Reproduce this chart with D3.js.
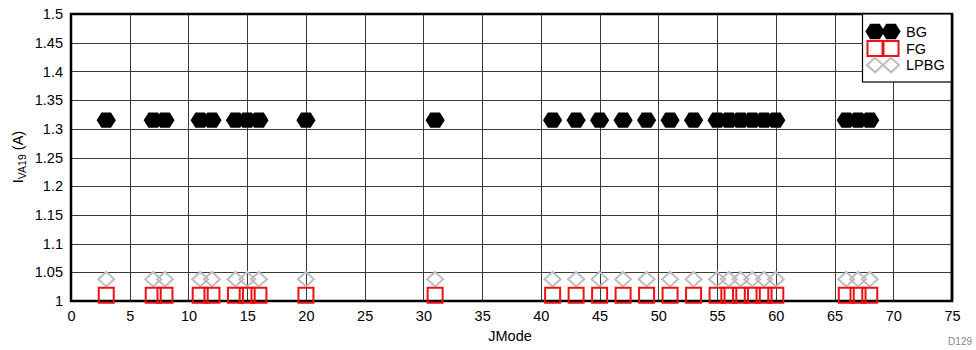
<!DOCTYPE html>
<html>
<head>
<meta charset="utf-8">
<script src="https://cdn.jsdelivr.net/npm/d3@7"></script>
<style>
  html, body { margin: 0; padding: 0; background: #fff; }
  svg { display: block; font-family: "Liberation Sans", Arial, sans-serif; }
</style>
</head>
<body>
<svg id="chart" width="976" height="350"></svg>
<script>
// ---- data ----
const jmode = [3, 7, 8, 11, 12, 14, 15, 16, 20, 31, 41, 43, 45, 47, 49, 51, 53, 55, 56, 57, 58, 59, 60, 66, 67, 68];
const bgValues   = [1.315, 1.315, 1.315, 1.315, 1.315, 1.315, 1.315, 1.315, 1.315, 1.315, 1.315, 1.315, 1.315, 1.315, 1.315, 1.315, 1.315, 1.315, 1.315, 1.315, 1.315, 1.315, 1.315, 1.315, 1.315, 1.315];
const fgValues   = [1.01, 1.01, 1.01, 1.01, 1.01, 1.01, 1.01, 1.01, 1.01, 1.01, 1.01, 1.01, 1.01, 1.01, 1.01, 1.01, 1.01, 1.01, 1.01, 1.01, 1.01, 1.01, 1.01, 1.01, 1.01, 1.01];
const lpbgValues = [1.038, 1.038, 1.038, 1.038, 1.038, 1.038, 1.038, 1.038, 1.038, 1.038, 1.038, 1.038, 1.038, 1.038, 1.038, 1.038, 1.038, 1.038, 1.038, 1.038, 1.038, 1.038, 1.038, 1.038, 1.038, 1.038];
const xTicks = [0, 5, 10, 15, 20, 25, 30, 35, 40, 45, 50, 55, 60, 65, 70, 75];
const yTicks = [1, 1.05, 1.1, 1.15, 1.2, 1.25, 1.3, 1.35, 1.4, 1.45, 1.5];
const seriesNames = ["BG", "FG", "LPBG"];

// ---- layout ----
const svg = d3.select("#chart");
const L = 71, R = 952, T = 14, B = 301;
const x = d3.scaleLinear().domain([0, 75]).range([L, R]);
const y = d3.scaleLinear().domain([1, 1.5]).range([B, T]);

// grid
const grid = svg.append("g");
grid.selectAll("line.v").data(xTicks).join("line")
  .attr("x1", d => Math.round(x(d)) + 0.5).attr("x2", d => Math.round(x(d)) + 0.5)
  .attr("y1", T).attr("y2", B)
  .attr("stroke", "#3a3a3a").attr("stroke-width", 1);
grid.selectAll("line.h").data(yTicks).join("line")
  .attr("y1", d => Math.round(y(d)) + 0.5).attr("y2", d => Math.round(y(d)) + 0.5)
  .attr("x1", L).attr("x2", R)
  .attr("stroke", "#3a3a3a").attr("stroke-width", 1);

// axes (labels only)
const xAxis = d3.axisBottom(x).tickValues(xTicks).tickSize(0).tickPadding(10).tickFormat(d3.format("d"));
const gx = svg.append("g").attr("transform", `translate(0,${B})`).call(xAxis);
gx.select(".domain").remove();
gx.selectAll("text").attr("font-size", 14.5).attr("fill", "#000")
  .attr("font-family", "'Liberation Sans', Arial, sans-serif");

const yAxis = d3.axisLeft(y).tickValues(yTicks).tickSize(0).tickPadding(8).tickFormat(d => String(+d.toFixed(2)));
const gy = svg.append("g").attr("transform", `translate(${L},0)`).call(yAxis);
gy.select(".domain").remove();
gy.selectAll("text").attr("font-size", 14.5).attr("fill", "#000")
  .attr("font-family", "'Liberation Sans', Arial, sans-serif");

// plot border
svg.append("rect").attr("x", L).attr("y", T).attr("width", R - L).attr("height", B - T)
  .attr("fill", "none").attr("stroke", "#000").attr("stroke-width", 2.5);

// markers
const hexR = 9.6;
const hexPts = d3.range(6).map(i => {
  const a = Math.PI / 3 * i;
  return [hexR * Math.cos(a), hexR * Math.sin(a) * 0.92];
});
const hexPath = "M" + hexPts.map(p => p.join(",")).join("L") + "Z";
const sq = 7.5;
const sqPath = `M${-sq},${-sq}L${sq},${-sq}L${sq},${sq}L${-sq},${sq}Z`;
const dw = 8, dh = 7.3;
const diaPath = `M0,${-dh}L${dw},0L0,${dh}L${-dw},0Z`;

const marks = svg.append("g");
marks.selectAll("path.lp").data(jmode).join("path")
  .attr("d", diaPath)
  .attr("transform", (d, i) => `translate(${x(d)},${y(lpbgValues[i])})`)
  .attr("fill", "none").attr("stroke", "#bdbdbd").attr("stroke-width", 2);
marks.selectAll("path.fg").data(jmode).join("path")
  .attr("d", sqPath)
  .attr("transform", (d, i) => `translate(${x(d)},${y(fgValues[i])})`)
  .attr("fill", "none").attr("stroke", "#ee1111").attr("stroke-width", 2);
marks.selectAll("path.bg").data(jmode).join("path")
  .attr("d", hexPath)
  .attr("transform", (d, i) => `translate(${x(d)},${y(bgValues[i])})`)
  .attr("fill", "#000").attr("stroke", "none");

// legend
const lg = svg.append("g");
lg.append("rect").attr("x", 862.5).attr("y", T).attr("width", R - 862.5).attr("height", 68)
  .attr("fill", "#fff").attr("stroke", "#000").attr("stroke-width", 1.2);
const rowsY = [31.5, 48.5, 65];
const symX = [875, 891];
const legendStyles = [
  { d: hexPath, fill: "#000", stroke: "none", sw: 0 },
  { d: sqPath, fill: "none", stroke: "#ee1111", sw: 2 },
  { d: diaPath, fill: "none", stroke: "#bdbdbd", sw: 2 }
];
seriesNames.forEach((name, i) => {
  symX.forEach(sx => {
    lg.append("path").attr("d", legendStyles[i].d)
      .attr("transform", `translate(${sx},${rowsY[i]})`)
      .attr("fill", legendStyles[i].fill).attr("stroke", legendStyles[i].stroke)
      .attr("stroke-width", legendStyles[i].sw);
  });
  lg.append("text").attr("x", 906).attr("y", rowsY[i] + 5)
    .attr("font-size", 14.5).attr("fill", "#000").text(name);
});
// redraw right border over legend
svg.append("line").attr("x1", R).attr("x2", R).attr("y1", T).attr("y2", B)
  .attr("stroke", "#000").attr("stroke-width", 2.5);

// axis titles
svg.append("text").attr("x", 510).attr("y", 341).attr("text-anchor", "middle")
  .attr("font-size", 14.5).attr("fill", "#000").text("JMode");

const yl = svg.append("text").attr("transform", "translate(23,157) rotate(-90)")
  .attr("text-anchor", "middle").attr("font-size", 14.5).attr("fill", "#000");
yl.append("tspan").text("I");
yl.append("tspan").attr("font-size", 10.5).attr("dy", 3).text("VA19");
yl.append("tspan").attr("dy", -3).text(" (A)");

svg.append("text").attr("x", 972).attr("y", 345).attr("text-anchor", "end")
  .attr("font-size", 10).attr("fill", "#888").text("D129");
</script>
</body>
</html>
